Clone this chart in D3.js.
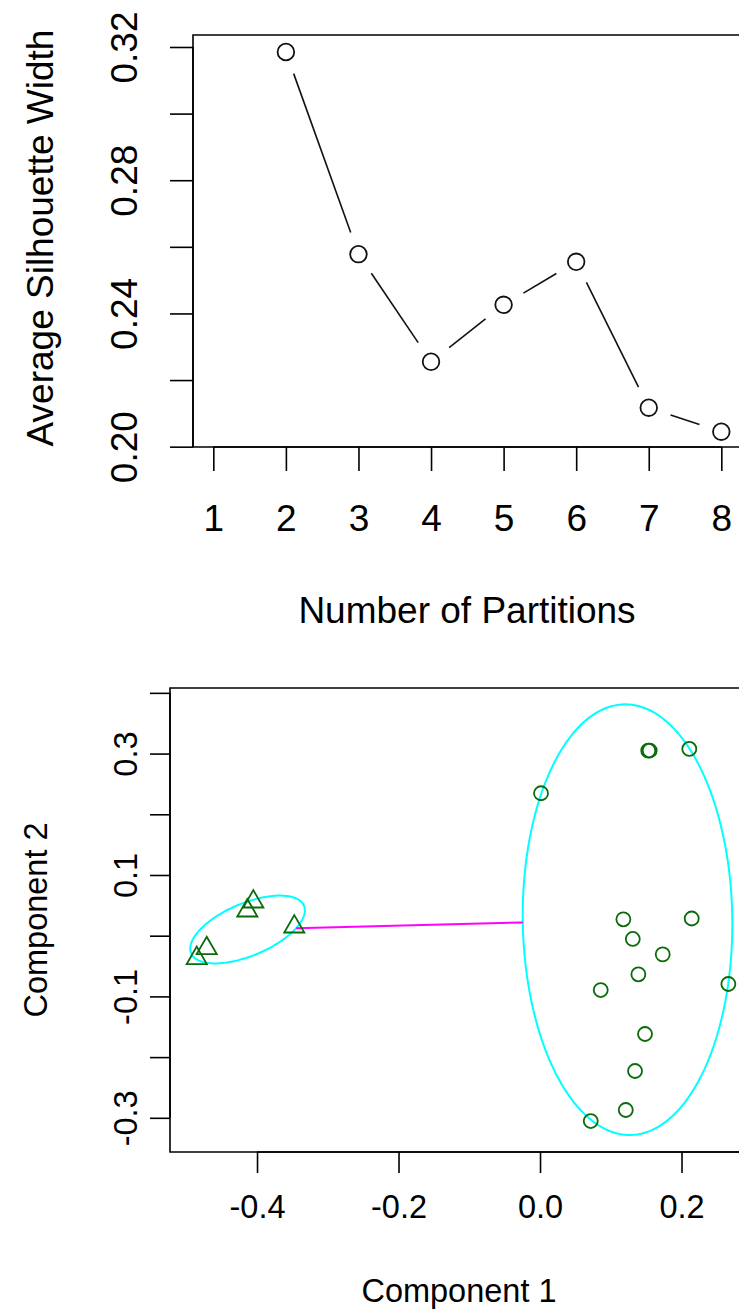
<!DOCTYPE html>
<html>
<head>
<meta charset="utf-8">
<script src="https://cdn.jsdelivr.net/npm/d3@7"></script>
<style>
  html, body { margin: 0; padding: 0; background: #fff; }
  svg { display: block; }
  text { font-family: "Liberation Sans", Arial, Helvetica, sans-serif; fill: #000; }
</style>
</head>
<body>
<svg id="chart" width="739" height="1314"></svg>
<script>
// ---- Silhouette by number of partitions ----
const partitions = [2, 3, 4, 5, 6, 7, 8];
const silWidth = [0.3185, 0.2578, 0.2255, 0.2426, 0.2555, 0.2117, 0.2045];
const partitionTicks = [1, 2, 3, 4, 5, 6, 7, 8];
const silTicks = [0.20, 0.22, 0.24, 0.26, 0.28, 0.30, 0.32];
const silTickLabels = [0.20, 0.24, 0.28, 0.32];
const partitionLimits = [0.72, 8.28];
const silLimits = [0.1999, 0.3236];

// ---- Cluster plot on the first two components ----
const circleC1 = [0.0014, 0.153, 0.155, 0.211, 0.1178, 0.2144, 0.1311, 0.1734, 0.1390, 0.2662, 0.0858, 0.1484, 0.1343, 0.1212, 0.0717];
const circleC2 = [0.2346, 0.3048, 0.3050, 0.3076, 0.0270, 0.0283, -0.0054, -0.0307, -0.0636, -0.0796, -0.0895, -0.1619, -0.2229, -0.2871, -0.3053];
const triangleC1 = [-0.4052, -0.4137, -0.3473, -0.4711, -0.4852];
const triangleC2 = [0.0560, 0.0412, 0.0148, -0.0208, -0.0372];
// ellipse: centre, semi-axes and rotation (degrees) in component units
const clusterEllipses = [
  { cx: 0.1237, cy: 0.0264, a: 0.3547, b: 0.1481, angle: 90.6 },
  { cx: -0.4134, cy: 0.0102, a: 0.089, b: 0.042, angle: 28 }
];
const comp1Ticks = [-0.4, -0.2, 0.0, 0.2];
const comp2Ticks = [-0.3, -0.2, -0.1, 0.0, 0.1, 0.2, 0.3, 0.4];
const comp2TickLabels = [-0.3, -0.1, 0.1, 0.3];
const comp1Limits = [-0.523, 0.3];
const comp2Limits = [-0.3563, 0.408];

const svg = d3.select("#chart");
// plain hyphen for negative numbers
const fmt1 = v => d3.format(".1f")(v).replace("\u2212", "-");

// ================= top panel =================
{
  const box = { left: 193, top: 35, bottom: 447 };
  const pxPerUnit = (721 - 213) / 7;
  const x = d3.scaleLinear().domain(partitionLimits)
    .range([box.left, box.left + (partitionLimits[1] - partitionLimits[0]) * pxPerUnit]);
  const y = d3.scaleLinear().domain(silLimits).range([box.bottom, box.top]);
  const fs = 37;
  const g = svg.append("g");

  // frame
  g.append("path")
    .attr("d", `M${x.range()[1] + 5},${box.top}H${box.left}V${box.bottom}H${x.range()[1] + 5}`)
    .attr("fill", "none").attr("stroke", "#000").attr("stroke-width", 1.6);

  // x axis
  const xAxis = d3.axisBottom(x).tickValues(partitionTicks).tickSize(24).tickPadding(34)
    .tickFormat(d3.format("d"));
  const xa = g.append("g").attr("transform", `translate(0,${box.bottom})`).call(xAxis);
  xa.selectAll("line,path").attr("stroke", "#000").attr("stroke-width", 1.6);
  xa.select(".domain").attr("d", `M${x(1)},0H${x(8)}`);
  xa.selectAll("text").attr("font-size", fs).attr("dy", "0.71em");

  // y axis
  const yAxis = d3.axisLeft(y).tickValues(silTicks).tickSize(23).tickPadding(10)
    .tickFormat(d => silTickLabels.some(v => Math.abs(v - d) < 1e-9) ? d3.format(".2f")(d) : "");
  const ya = g.append("g").attr("transform", `translate(${box.left},0)`).call(yAxis);
  ya.selectAll("line,path").attr("stroke", "#000").attr("stroke-width", 1.6);
  ya.select(".domain").attr("d", `M0,${y(0.20)}V${y(0.32)}`);
  ya.selectAll("text")
    .attr("font-size", fs)
    .attr("text-anchor", "middle")
    .attr("x", null).attr("dy", null)
    .attr("transform", "translate(-56,0) rotate(-90)");

  // connecting segments with gaps around points
  const pts = partitions.map((p, i) => [x(p), y(silWidth[i])]);
  const gap = 23;
  const segs = d3.pairs(pts).map(([p0, p1]) => {
    const dx = p1[0] - p0[0], dy = p1[1] - p0[1], len = Math.hypot(dx, dy);
    const ux = dx / len, uy = dy / len;
    return [p0[0] + ux * gap, p0[1] + uy * gap, p1[0] - ux * gap, p1[1] - uy * gap];
  });
  g.selectAll(".seg").data(segs).join("line").attr("class", "seg")
    .attr("x1", d => d[0]).attr("y1", d => d[1]).attr("x2", d => d[2]).attr("y2", d => d[3])
    .attr("stroke", "#111").attr("stroke-width", 1.6);

  g.selectAll(".pt").data(partitions).join("circle").attr("class", "pt")
    .attr("cx", d => x(d)).attr("cy", (d, i) => y(silWidth[i])).attr("r", 8.3)
    .attr("fill", "none").attr("stroke", "#111").attr("stroke-width", 1.8);

  g.append("text").attr("x", 467).attr("y", 623).attr("text-anchor", "middle")
    .attr("font-size", fs).text("Number of Partitions");
  g.append("text").attr("transform", `translate(53,${(box.top + box.bottom) / 2 - 3}) rotate(-90)`)
    .attr("text-anchor", "middle").attr("font-size", fs).text("Average Silhouette Width");
}

// ================= bottom panel =================
{
  const box = { left: 170, top: 688, bottom: 1152 };
  const pxPerUnitX = 707.5;
  const x = d3.scaleLinear().domain(comp1Limits)
    .range([box.left, box.left + (comp1Limits[1] - comp1Limits[0]) * pxPerUnitX]);
  const y = d3.scaleLinear().domain(comp2Limits).range([box.bottom, box.top]);
  const fs = 32.5;
  const g = svg.append("g");

  g.append("path")
    .attr("d", `M${x.range()[1] + 5},${box.top}H${box.left}V${box.bottom}H${x.range()[1] + 5}`)
    .attr("fill", "none").attr("stroke", "#000").attr("stroke-width", 1.6);

  const xAxis = d3.axisBottom(x).tickValues(comp1Ticks).tickSize(21).tickPadding(22)
    .tickFormat(fmt1);
  const xa = g.append("g").attr("transform", `translate(0,${box.bottom})`).call(xAxis);
  xa.selectAll("line,path").attr("stroke", "#000").attr("stroke-width", 1.6);
  xa.select(".domain").attr("d", `M${x(comp1Ticks[0])},0H${x.range()[1] + 5}`);
  xa.selectAll("text").attr("font-size", fs).attr("dy", "0.71em");

  const yAxis = d3.axisLeft(y).tickValues(comp2Ticks).tickSize(20).tickPadding(10)
    .tickFormat(d => comp2TickLabels.some(v => Math.abs(v - d) < 1e-9) ? fmt1(d) : "");
  const ya = g.append("g").attr("transform", `translate(${box.left},0)`).call(yAxis);
  ya.selectAll("line,path").attr("stroke", "#000").attr("stroke-width", 1.6);
  ya.select(".domain").attr("d", `M0,${y(comp2Ticks[comp2Ticks.length - 1])}V${y(comp2Ticks[0])}`);
  ya.selectAll("text")
    .attr("font-size", fs)
    .attr("text-anchor", "middle")
    .attr("x", null).attr("dy", null)
    .attr("transform", "translate(-33,0) rotate(-90)");

  // cluster ellipses
  const ellipsePoints = e => {
    const r = e.angle * Math.PI / 180, c = Math.cos(r), s = Math.sin(r);
    return d3.range(0, 361, 2).map(t => {
      const u = t * Math.PI / 180;
      const ex = e.a * Math.cos(u), ey = e.b * Math.sin(u);
      return [x(e.cx + ex * c - ey * s), y(e.cy + ex * s + ey * c)];
    });
  };
  g.selectAll(".ell").data(clusterEllipses).join("path").attr("class", "ell")
    .attr("d", e => d3.line().curve(d3.curveLinearClosed)(ellipsePoints(e)))
    .attr("fill", "none").attr("stroke", "#00FFFF").attr("stroke-width", 2);

  // segment joining the two ellipse borders along the line of centres
  const border = (e, dx, dy) => {
    const r = -e.angle * Math.PI / 180;
    const lx = dx * Math.cos(r) - dy * Math.sin(r), ly = dx * Math.sin(r) + dy * Math.cos(r);
    const t = 1 / Math.sqrt((lx * lx) / (e.a * e.a) + (ly * ly) / (e.b * e.b));
    return [e.cx + dx * t, e.cy + dy * t];
  };
  {
    const [e1, e2] = clusterEllipses;
    const dx = e1.cx - e2.cx, dy = e1.cy - e2.cy, len = Math.hypot(dx, dy);
    const p2 = border(e2, dx / len, dy / len), p1 = border(e1, -dx / len, -dy / len);
    g.append("line")
      .attr("x1", x(p2[0])).attr("y1", y(p2[1])).attr("x2", x(p1[0])).attr("y2", y(p1[1]))
      .attr("stroke", "#FF00FF").attr("stroke-width", 2);
  }

  const green = "#0a6b0a";
  g.selectAll(".cpt").data(circleC1).join("circle").attr("class", "cpt")
    .attr("cx", d => x(d)).attr("cy", (d, i) => y(circleC2[i])).attr("r", 7)
    .attr("fill", "none").attr("stroke", green).attr("stroke-width", 1.8);
  g.selectAll(".tpt").data(triangleC1).join("path").attr("class", "tpt")
    .attr("transform", (d, i) => `translate(${x(d)},${y(triangleC2[i])})`)
    .attr("d", d3.symbol(d3.symbolTriangle, 175)())
    .attr("fill", "none").attr("stroke", green).attr("stroke-width", 1.8);

  g.append("text").attr("x", 459).attr("y", 1302).attr("text-anchor", "middle")
    .attr("font-size", fs).text("Component 1");
  g.append("text").attr("transform", `translate(47,${(box.top + box.bottom) / 2}) rotate(-90)`)
    .attr("text-anchor", "middle").attr("font-size", fs).text("Component 2");
}
</script>
</body>
</html>
